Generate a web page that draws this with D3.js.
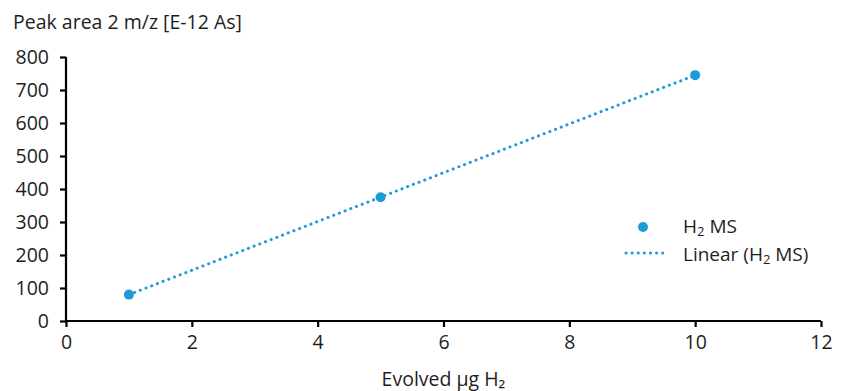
<!DOCTYPE html>
<html>
<head>
<meta charset="utf-8">
<script src="https://cdn.jsdelivr.net/npm/d3@7"></script>
<style>
  body { margin: 0; background: #fff; }
  svg text { font-family: "Open Sans", "Noto Sans", sans-serif; fill: #1e1e1e; }
</style>
</head>
<body>
<div id="chart"></div>
<script>
const xValues = [1, 5, 10];
const yValues = [80, 375, 745];
const xTicks = [0, 2, 4, 6, 8, 10, 12];
const yTicks = [0, 100, 200, 300, 400, 500, 600, 700, 800];

const W = 844, H = 391;
const margin = {top: 57, right: 23, bottom: 70, left: 66};
const color = '#1e9bd7';
const fs = '19.5px';

const svg = d3.select('#chart').append('svg')
    .attr('width', W)
    .attr('height', H);

const x = d3.scaleLinear().domain([0, 12]).range([margin.left, W - margin.right]);
const y = d3.scaleLinear().domain([0, 800]).range([H - margin.bottom, margin.top]);

// axes
const xAxis = svg.append('g')
    .attr('transform', 'translate(0,' + y(0) + ')')
    .call(d3.axisBottom(x).tickValues(xTicks).tickSize(6).tickPadding(8));
const yAxis = svg.append('g')
    .attr('transform', 'translate(' + x(0) + ',0)')
    .call(d3.axisLeft(y).tickValues(yTicks).tickSize(6).tickPadding(11));
[xAxis, yAxis].forEach(a => {
    a.selectAll('path').attr('stroke', '#000').attr('stroke-width', 2.2);
    a.selectAll('line').attr('stroke', '#000').attr('stroke-width', 2.2);
    a.selectAll('text').style('font-size', fs).attr('fill', '#1e1e1e');
});
yAxis.select('.domain').attr('d', 'M0,' + y(800) + 'V' + y(0));
xAxis.select('.domain').attr('d', 'M' + x(0) + ',0H' + x(12));

// linear trendline (least squares)
const n = xValues.length;
const mx = d3.mean(xValues), my = d3.mean(yValues);
let sxy = 0, sxx = 0;
for (let i = 0; i < n; i++) {
    sxy += (xValues[i] - mx) * (yValues[i] - my);
    sxx += (xValues[i] - mx) * (xValues[i] - mx);
}
const slope = sxy / sxx, intercept = my - slope * mx;
const trend = d3.extent(xValues).map(v => [v, intercept + slope * v]);

svg.append('path')
    .datum(trend)
    .attr('fill', 'none')
    .attr('stroke', color)
    .attr('stroke-width', 3)
    .attr('stroke-linecap', 'round')
    .attr('stroke-dasharray', '0.1 6')
    .attr('d', d3.line().x(d => x(d[0])).y(d => y(d[1])));

// points
svg.selectAll('circle.pt')
    .data(xValues.map((v, i) => [v, yValues[i]]))
    .enter().append('circle')
    .attr('class', 'pt')
    .attr('cx', d => x(d[0]))
    .attr('cy', d => y(d[1]))
    .attr('r', 5)
    .attr('fill', color);

// titles
svg.append('text')
    .attr('x', 13).attr('y', 29)
    .style('font-size', fs)
    .text('Peak area 2 m/z [E-12 As]');
svg.append('text')
    .attr('x', (x(0) + x(12)) / 2).attr('y', 386)
    .attr('text-anchor', 'middle')
    .style('font-size', fs)
    .text('Evolved µg H₂');

// legend
const lg = svg.append('g');
lg.append('circle').attr('cx', 643).attr('cy', 227).attr('r', 5).attr('fill', color);
lg.append('line')
    .attr('x1', 626).attr('x2', 664).attr('y1', 253).attr('y2', 253)
    .attr('stroke', color).attr('stroke-width', 3)
    .attr('stroke-linecap', 'round').attr('stroke-dasharray', '0.1 6');
function subLabel(yPos, pre, post) {
    const t = lg.append('text').attr('x', 683).attr('y', yPos).style('font-size', '19px');
    t.append('tspan').text(pre + 'H');
    t.append('tspan').attr('dy', 3).style('font-size', '13px').text('2');
    t.append('tspan').attr('dy', -3).text(post);
}
subLabel(233, '', ' MS');
subLabel(261, 'Linear (', ' MS)');
</script>
</body>
</html>
